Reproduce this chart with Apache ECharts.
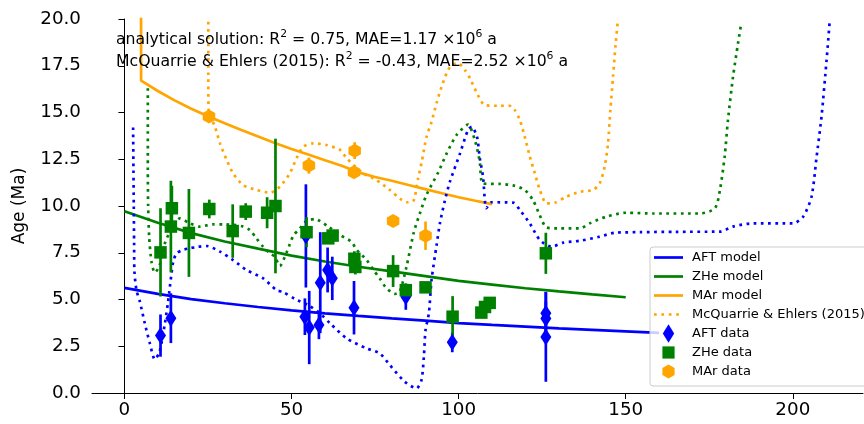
<!DOCTYPE html>
<html><head><meta charset="utf-8">
<script src="https://cdn.jsdelivr.net/npm/echarts@6/dist/echarts.min.js"></script>
<style>html,body{margin:0;padding:0;background:#fff}#c{width:864px;height:424px}</style>
</head><body><div id="c"></div>
<script>
// ---------- data ----------
const xTicks = [0, 50, 100, 150, 200];

const aftModelX = [0,10,20,30,40,50,60,70,80,90,100,110,120,130,140,150,160];
const aftModelY = [5.62,5.3,5.02,4.8,4.6,4.42,4.26,4.12,3.99,3.87,3.74,3.64,3.55,3.46,3.38,3.3,3.22];

const zheModelX = [0,10,20,30,40,50,60,70,80,90,100,110,120,130,140,150];
const zheModelY = [9.72,9.1,8.55,8.1,7.72,7.35,7.03,6.75,6.5,6.25,6.0,5.8,5.6,5.43,5.27,5.12];

const marModelX = [4.95,5,10,15,20,25,30,35,40,45,50,55,60,65,70,75,80,85,90,95,100,105,110];
const marModelY = [25,16.7,16.15,15.65,15.2,14.8,14.42,14.06,13.72,13.37,13.05,12.75,12.45,12.15,11.8,11.55,11.35,11.12,10.9,10.68,10.47,10.28,10.1];

const meAftX = [2.6,2.7,2.8,2.9,3.0,3.6,4.6,6.1,7.6,9.1,10.5,12.0,13.0,13.6,14.1,14.6,15.6,17.5,19.6,22,24.6,28.6,32.5,36.5,41.5,45.5,47.5,51,55,58.5,61.5,66.5,72.4,76.4,79.4,83.9,87.4,88.9,89.6,90.1,91.1,91.9,93.4,94.4,95.9,97.4,100.4,102.8,103.9,105.5,106.3,107.3,108.3,109.8,116.3,118.3,121.3,124.3,127.8,131.3,136.3,142.2,146.7,154.2,165,178.2,182.1,188.1,200.1,203.1,205.6,207.1,208.6,210.1,211];
const meAftY = [14.2,12,10,8,6.5,5.5,4.9,3.73,2.66,1.8,2.2,3.6,4.8,5.68,6.4,7.02,7.47,7.65,7.74,7.82,7.86,7.56,7.11,6.58,6.13,5.5,5.4,5.03,4.7,4.26,3.73,2.92,2.39,2.12,1.5,0.6,0.25,0.7,1.94,3.37,4.26,6.04,7.9,9.07,10.3,11.3,12.8,14.06,14.24,13.7,12.6,11.57,9.88,10.2,10.18,9.79,9.07,8.18,7.82,8.04,8.14,8.36,8.57,8.6,8.62,8.63,8.9,9.07,9.07,9.43,10.5,12.6,14.8,17.8,19.8];

const meZheX = [7.0,7.0,7.0,7.1,7.4,8.1,9.1,10.5,12.1,14.6,16.6,19.6,22.6,26.6,29.6,33.4,35.5,37.5,39.5,41.5,43.5,45,46.5,48.5,50.5,52.5,54.5,57,61,64.5,67.9,69.5,72.5,74.5,76.4,78.4,81,82.4,84.4,86.6,88.4,90.4,93.9,96.4,99.4,102.8,104.9,106.3,107.3,112.3,116.3,119.8,122.3,124.3,126.3,130.3,136.3,139.2,144.2,150.2,158.2,172.2,176.7,178.2,179.6,180.6,182.1,183.6,184.6];
const meZheY = [16.3,14,12,10,8.36,7.02,6.43,6.8,8.0,8.98,9.34,9.07,8.9,9.02,9.02,8.98,8.9,8.72,8.27,7.82,7.47,7.29,6.79,7.5,8.4,8.8,9.2,9.3,8.9,8.45,8.09,7.65,7.11,6.58,6.13,5.6,5.3,5.42,6.75,8.6,9.6,10.6,11.8,12.8,13.8,14.35,13.5,12.4,11.2,11.18,11.1,10.86,10.3,9.5,8.85,8.8,8.8,9.07,9.43,9.64,9.6,9.6,9.88,10.86,12.64,14.6,16.9,18.7,19.8];

const meMarX = [25.1,25.1,25.2,27.1,28.6,30.6,32.5,35.5,39.5,43.6,46.5,49.5,51.5,53.5,56.5,60.5,64.5,66.5,71.4,75.4,79.4,82.4,84.4,86.4,87.9,88.9,90.4,91.9,93.4,94.9,96.4,97.9,99.9,101.9,103.4,105.3,107.8,112.3,115.3,116.8,118.3,119.8,121.3,122.8,124.3,126.3,128.8,132.3,136.3,140.2,142.2,143.7,144.7,145.4,146.2,147,147.7];
const meMarY = [21,17,15.1,14.24,13.35,12.46,11.75,11.12,10.86,10.71,11.03,11.75,12.55,13.17,13.35,13.26,13.0,12.55,11.75,11.39,10.86,10.4,10.2,10.25,11.5,12.3,13.7,14.5,15.5,16.38,17.1,17.54,17.63,17.27,16.83,16.11,15.4,15.36,15.36,15.13,14.6,13.7,12.64,11.75,10.86,10.14,10.18,10.5,10.76,10.86,11.2,12.1,13.35,15.13,16.9,18.7,20.0];

const aftX   = [10.8,13.9,54.0,54.3,55.3,58.2,58.6,60.8,62.2,68.7,84.2,98.1,126.1,126.1,126.1];
const aftY   = [3.07,4.0,4.08,8.4,3.5,3.64,5.9,6.58,6.13,4.56,5.15,2.71,4.26,3.99,3.0];
const aftErr = [1.13,1.33,0.98,2.76,1.96,0.76,2.7,1.2,1.16,1.43,0.7,0.53,1.15,0.9,2.4];

const zheX   = [10.8,13.9,14.2,19.3,25.4,32.4,36.3,42.7,45.2,54.5,61.0,62.3,68.8,69.1,80.4,84.2,90.1,98.2,106.8,107.9,109.3,126.1];
const zheY   = [7.52,8.9,9.88,8.56,9.84,8.66,9.7,9.64,10.0,8.6,8.27,8.42,7.18,6.74,6.52,5.5,5.65,4.08,4.3,4.6,4.82,7.47];
const zheErr = [2.36,2.45,1.2,2.35,0.5,1.43,0.45,0.83,3.6,0.8,0.3,0.3,0.4,0.4,0.85,0.35,0,1.1,0,0,0,1.1];

const marX   = [25.3,55.2,68.7,68.9,80.4,90.1];
const marY   = [14.78,12.16,11.8,12.96,9.2,8.41];
const marErr = [0,0.43,0.3,0.45,0,0.76];

// ---------- style ----------
const BLUE = '#0000ff', GREEN = '#008000', ORANGE = '#ffa500';
const FONT = 'DejaVu Sans';
const LW = 2.7;
const DOT = [2.7, 4.5];
const HEX = 'path://M0,-1L0.866,-0.5L0.866,0.5L0,1L-0.866,0.5L-0.866,-0.5Z';

const PAD = 'M0,0M33,19';
const ICON_LINE = 'path://' + PAD + 'M0,8.15L29,8.15L29,10.85L0,10.85Z';
const ICON_DOT = 'path://' + PAD + 'M0,8.15h2.7v2.7h-2.7ZM7.4,8.15h2.7v2.7h-2.7ZM14.8,8.15h2.7v2.7h-2.7ZM22.2,8.15h2.7v2.7h-2.7Z';
const ICON_DIA = 'path://' + PAD + 'M14.5,0.2L20.2,9.5L14.5,18.8L8.8,9.5Z';
const ICON_SQ = 'path://' + PAD + 'M8.4,3.4h12.2v12.2h-12.2Z';
const ICON_HEX = 'path://' + PAD + 'M14.5,2.4L20.6,5.95L20.6,13.05L14.5,16.6L8.4,13.05L8.4,5.95Z';

const zip = (xs, ys) => xs.map((x, i) => [x, ys[i]]);
const zip3 = (xs, ys, es) => xs.map((x, i) => [x, ys[i], es[i]]);

function modelLine(name, xs, ys, color, dotted) {
  return {
    type: 'line', name: name, data: zip(xs, ys), symbol: 'none', showSymbol: false,
    smooth: dotted ? 0.25 : false, clip: true, silent: true,
    lineStyle: {color: color, width: LW, type: dotted ? DOT : 'solid', cap: 'butt'},
    itemStyle: {color: color}, z: 2
  };
}
function errBars(xs, ys, es, color) {
  return {
    type: 'custom', silent: true, data: zip3(xs, ys, es), encode: {x: 0, y: 1},
    renderItem: function (params, api) {
      const x = api.value(0), y = api.value(1), e = api.value(2);
      const p1 = api.coord([x, y - e]), p2 = api.coord([x, y + e]);
      return {type: 'line', shape: {x1: p1[0], y1: p1[1], x2: p2[0], y2: p2[1]},
              style: {stroke: color, lineWidth: LW}};
    }, z: 3
  };
}
function points(name, xs, ys, symbol, size, color) {
  return {type: 'scatter', name: name, data: zip(xs, ys), symbol: symbol, symbolSize: size,
          itemStyle: {color: color, opacity: 1}, silent: true, z: 3};
}

const chart = echarts.init(document.getElementById('c'), null, {renderer: 'canvas'});
chart.setOption({
  animation: false,
  backgroundColor: '#fff',
  textStyle: {fontFamily: FONT},
  grid: {left: 92, right: 1, top: 19, bottom: 31, containLabel: false},
  xAxis: {
    type: 'value', min: -9.7, max: 221,
    axisLine: {show: true, lineStyle: {color: '#000', width: 1}},
    axisTick: {show: true, inside: false, length: 6, lineStyle: {color: '#000'}, customValues: xTicks},
    axisLabel: {color: '#000', fontSize: 18.3, fontFamily: FONT, margin: 8, customValues: xTicks},
    splitLine: {show: false}
  },
  yAxis: {
    type: 'value', min: 0, max: 20, interval: 2.5,
    name: 'Age (Ma)', nameLocation: 'middle', nameRotate: 90, nameGap: 64,
    nameTextStyle: {color: '#000', fontSize: 17, fontFamily: FONT},
    axisLine: {show: true, lineStyle: {color: '#000', width: 1}},
    axisTick: {show: true, inside: false, length: 6, lineStyle: {color: '#000'}},
    axisLabel: {color: '#000', fontSize: 18.3, fontFamily: FONT, margin: 11,
                formatter: function (v) { return v.toFixed(1); }},
    splitLine: {show: false}
  },
  legend: {
    orient: 'vertical', left: 650, top: 247,
    itemWidth: 33, itemHeight: 19, itemGap: 0,
    padding: [1, 8, 5, 4],
    backgroundColor: 'rgba(255,255,255,0.8)', borderColor: '#cccccc', borderWidth: 1, borderRadius: 3,
    textStyle: {fontFamily: FONT, fontSize: 13, color: '#000'},
    itemStyle: {borderWidth: 0},
    selectedMode: false,
    data: [
      {name: 'AFT model', icon: ICON_LINE, itemStyle: {color: BLUE}},
      {name: 'ZHe model', icon: ICON_LINE, itemStyle: {color: GREEN}},
      {name: 'MAr model', icon: ICON_LINE, itemStyle: {color: ORANGE}},
      {name: 'McQuarrie & Ehlers (2015)', icon: ICON_DOT, itemStyle: {color: ORANGE}},
      {name: 'AFT data', icon: ICON_DIA, itemStyle: {color: BLUE}},
      {name: 'ZHe data', icon: ICON_SQ, itemStyle: {color: GREEN}},
      {name: 'MAr data', icon: ICON_HEX, itemStyle: {color: ORANGE}}
    ]
  },
  graphic: [{
    type: 'text', left: 116, top: 29, z: 100, silent: true,
    style: {
      text: 'analytical solution: R{s|2} = 0.75, MAE=1.17 \u00d710{s|6} a\nMcQuarrie & Ehlers (2015): R{s|2} = -0.43, MAE=2.52 \u00d710{s|6} a',
      fontFamily: FONT, fontSize: 15.7, lineHeight: 22, fill: '#000',
      rich: {
        s: {fontFamily: FONT, fontSize: 10.8, lineHeight: 14, verticalAlign: 'top', fill: '#000'}
      }
    }
  }],
  series: [
    modelLine('AFT model', aftModelX, aftModelY, BLUE, false),
    modelLine('ZHe model', zheModelX, zheModelY, GREEN, false),
    modelLine('MAr model', marModelX, marModelY, ORANGE, false),
    modelLine('McQuarrie & Ehlers (2015)', meMarX, meMarY, ORANGE, true),
    modelLine('McQuarrie & Ehlers (2015)', meAftX, meAftY, BLUE, true),
    modelLine('McQuarrie & Ehlers (2015)', meZheX, meZheY, GREEN, true),
    errBars(aftX, aftY, aftErr, BLUE),
    points('AFT data', aftX, aftY, 'diamond', [11, 17], BLUE),
    errBars(zheX, zheY, zheErr, GREEN),
    points('ZHe data', zheX, zheY, 'rect', 12.5, GREEN),
    errBars(marX, marY, marErr, ORANGE),
    points('MAr data', marX, marY, HEX, [12.5, 14], ORANGE)
  ]
});
</script></body></html>
